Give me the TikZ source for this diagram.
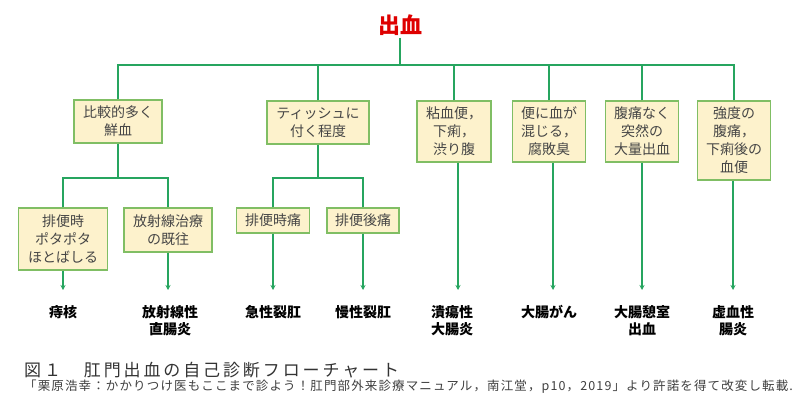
\documentclass[tikz,border=0pt]{standalone}
\usepackage{fontspec}
\setmainfont{Noto Sans CJK JP}
\newfontfamily\capfont[LetterSpace=17]{Noto Sans CJK JP}
\newfontfamily\subfont[LetterSpace=9]{Noto Sans CJK JP}
\usetikzlibrary{arrows.meta}
\definecolor{lineg}{RGB}{38,165,95}
\definecolor{boxfill}{RGB}{253,242,204}
\definecolor{boxedge}{RGB}{128,190,100}
\definecolor{boxtext}{RGB}{70,70,70}
\definecolor{titlered}{RGB}{222,0,0}
\begin{document}
\begin{tikzpicture}[x=1pt,y=-1pt,
  conn/.style={draw=lineg,line width=1.4pt},
  arr/.style={conn,-{Stealth[length=5pt,width=5pt]}},
  qbox/.style={draw=boxedge,fill=boxfill,line width=1.2pt,text=boxtext,
    font=\fontsize{14}{18}\selectfont,align=center,inner sep=0pt},
  result/.style={font=\fontsize{14}{17}\selectfont\bfseries,align=center,
    anchor=north,inner sep=0pt,text=black},
]
\useasboundingbox (0,0) rectangle (800,418);
\fill[white] (0,0) rectangle (800,418);

\node[font=\fontsize{22}{24}\selectfont\bfseries,text=titlered,inner sep=2pt] (title) at (400,25) {出血};

% first level boxes
\node[qbox,minimum width=88pt,minimum height=43pt] (b1) at (118,121.5) {比較的多く\\鮮血};
\node[qbox,minimum width=102pt,minimum height=43pt] (b2) at (318,122.5) {ティッシュに\\付く程度};
\node[qbox,minimum width=74pt,minimum height=61pt] (b3) at (454,131.5) {粘血便，\\下痢，\\渋り腹};
\node[qbox,minimum width=73pt,minimum height=61pt] (b4) at (549,131.5) {便に血が\\混じる，\\腐敗臭};
\node[qbox,minimum width=73pt,minimum height=61pt] (b5) at (642,131.5) {腹痛なく\\突然の\\大量出血};
\node[qbox,minimum width=73pt,minimum height=79pt] (b6) at (734,140.5) {強度の\\腹痛，\\下痢後の\\血便};

% second level boxes
\node[qbox,minimum width=89pt,minimum height=62pt] (sa) at (63,239) {排便時\\ポタポタ\\ほとばしる};
\node[qbox,minimum width=88pt,minimum height=44pt] (sb) at (168,230) {放射線治療\\の既往};
\node[qbox,minimum width=73pt,minimum height=25pt] (sc) at (273,220.5) {排便時痛};
\node[qbox,minimum width=72pt,minimum height=25pt] (sd) at (363,220.5) {排便後痛};

% results
\node[result] (ra) at (63,305) {痔核};
\node[result] (rb) at (170,305) {放射線性\\直腸炎};
\node[result] (rc) at (273,305) {急性裂肛};
\node[result] (rd) at (363,305) {慢性裂肛};
\node[result] (re) at (452,305) {潰瘍性\\大腸炎};
\node[result] (rf) at (549,305) {大腸がん};
\node[result] (rg) at (642,305) {大腸憩室\\出血};
\node[result] (rh) at (733,305) {虚血性\\腸炎};

% junctions
\coordinate (j0) at (400,65);
\coordinate (j1) at (118,178);
\coordinate (j2) at (318,178);

\draw[conn] (title.south) -- (j0);
\draw[conn] (b1.north) |- (j0);
\draw[conn] (b6.north) |- (j0);
\draw[conn] (b2.north) -- (b2.north |- j0);
\draw[conn] (b3.north) -- (b3.north |- j0);
\draw[conn] (b4.north) -- (b4.north |- j0);
\draw[conn] (b5.north) -- (b5.north |- j0);

\draw[conn] (b1.south) -- (j1);
\draw[conn] (sa.north) |- (j1);
\draw[conn] (sb.north) |- (j1);
\draw[conn] (b2.south) -- (j2);
\draw[conn] (sc.north) |- (j2);
\draw[conn] (sd.north) |- (j2);

% arrow tips
\coordinate (ta) at (63,290);
\coordinate (tb) at (168,290);
\coordinate (tc) at (273,290);
\coordinate (td) at (363,290);
\coordinate (te) at (458,290);
\coordinate (tf) at (553,290);
\coordinate (tg) at (642,290);
\coordinate (th) at (733,290);

\draw[arr] (sa.south -| ta) -- (ta);
\draw[arr] (sb.south -| tb) -- (tb);
\draw[arr] (sc.south -| tc) -- (tc);
\draw[arr] (sd.south -| td) -- (td);
\draw[arr] (b3.south -| te) -- (te);
\draw[arr] (b4.south -| tf) -- (tf);
\draw[arr] (b5.south -| tg) -- (tg);
\draw[arr] (b6.south -| th) -- (th);

% captions
\node[anchor=west,inner sep=0pt,font=\capfont\fontsize{17}{18}\selectfont,text=black!80] (cap) at (24,370) {図１　肛門出血の自己診断フローチャート};
\node[anchor=west,inner sep=0pt,font=\subfont\fontsize{12.5}{13}\selectfont,text=black!75] (sub) at (24,387) {「栗原浩幸：かかりつけ医もここまで診よう！肛門部外来診療マニュアル，南江堂，p10，2019」より許諾を得て改変し転載.};
\end{tikzpicture}
\end{document}
